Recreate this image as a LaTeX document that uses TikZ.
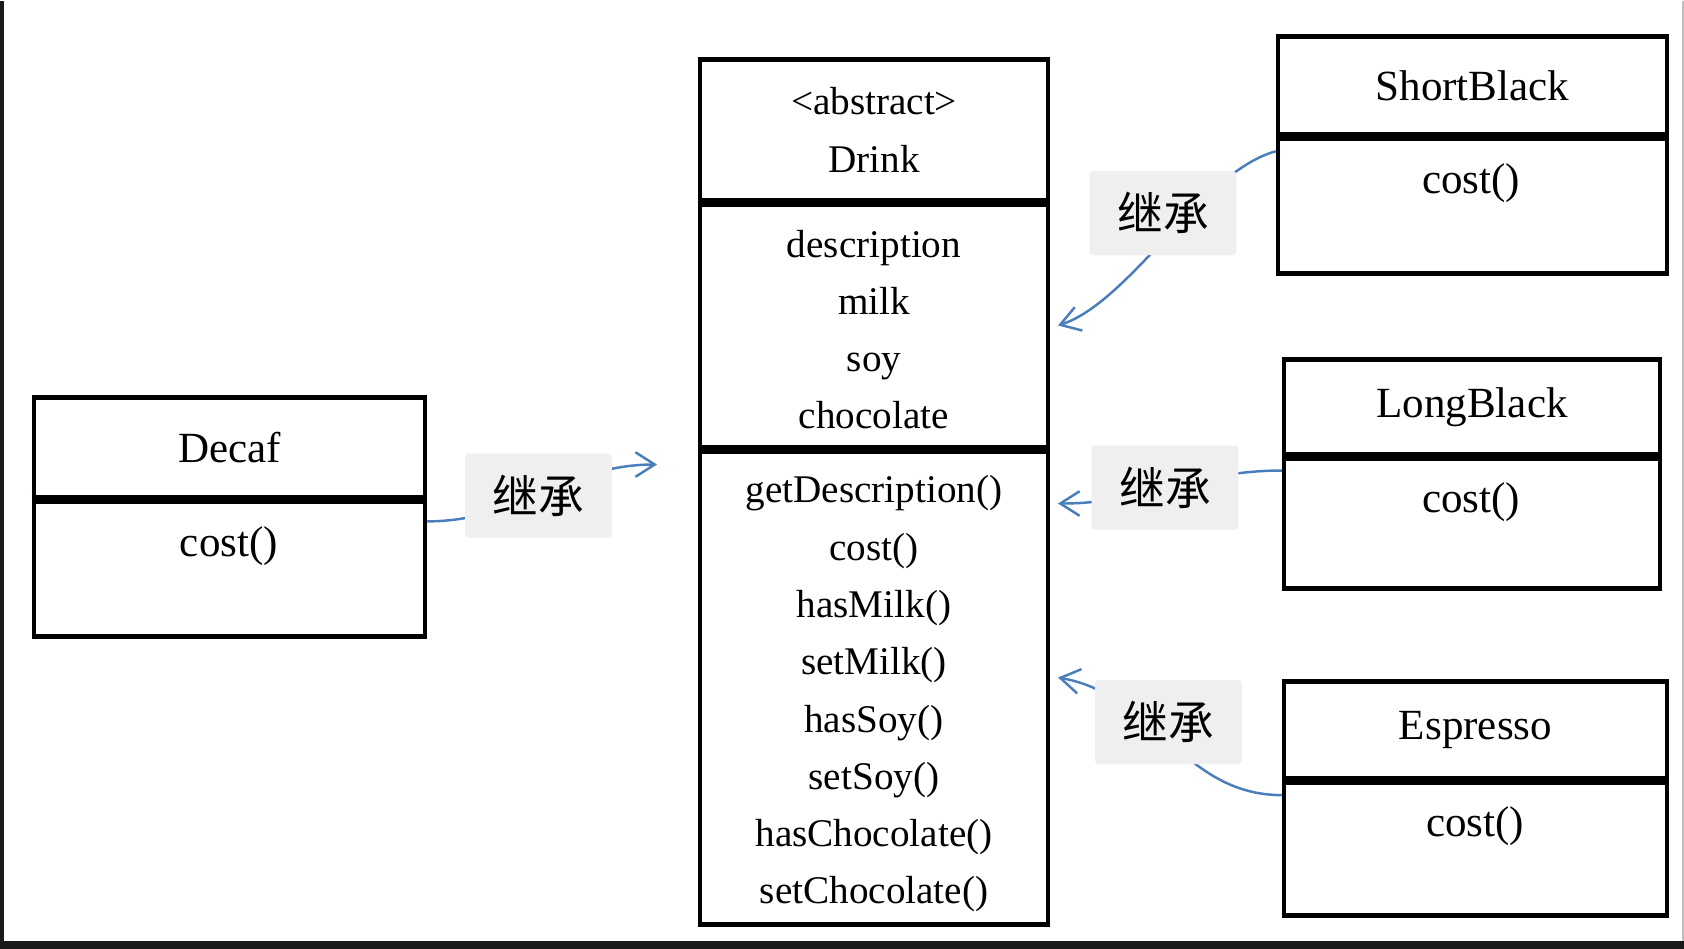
\documentclass[tikz,border=0pt]{standalone}
\usepackage{fontspec}
\setmainfont{Liberation Serif}
\newfontfamily\cjk{Noto Sans CJK SC}
\usetikzlibrary{arrows.meta}
\definecolor{lineblue}{RGB}{74,126,187}
\definecolor{labelgray}{RGB}{239,239,239}
\definecolor{framedark}{RGB}{26,26,26}

\begin{document}
\begin{tikzpicture}[x=0.02cm, y=-0.02cm, >={Straight Barb[length=11pt,width=14pt]},
  part/.style={draw, line width=2.6pt, inner sep=0pt},
  txt/.style={align=center, inner sep=0pt, font=\fontsize{22.3}{32.6}\selectfont},
  bigtxt/.style={align=center, inner sep=0pt, font=\fontsize{24.5}{30}\selectfont},
  rel/.style={fill=labelgray, rounded corners=2pt, minimum width=2.94cm, minimum height=1.68cm, font=\cjk\fontsize{26}{30}\selectfont},
  link/.style={draw=lineblue, line width=1.4pt}]
\fill[white] (0,0) rectangle (1684,948);
\fill[framedark] (0,0) rectangle (4,948);
\fill[framedark] (0,940) rectangle (1684,948);
\draw[gray!50, line width=0.6pt] (1683,0) -- (1683,940);
% Decaf
\node (decafh) at (229.5,447) [part, bigtxt, minimum width=7.82cm, minimum height=2cm] {Decaf};
\node (decafb) at (229.5,566.5) [part, minimum width=7.82cm, minimum height=2.78cm] {};
\node (decafc) at (229,546) [bigtxt] {cost()};
% Drink
\node (drinkh) at (874,129.5) [part, txt, minimum width=6.96cm, minimum height=2.82cm] {<abstract>\\Drink};
\node (drinka) at (874,323.5) [part, minimum width=6.96cm, minimum height=4.94cm] {};
\node (drinkat) at (874,329) [txt] {description\\milk\\soy\\chocolate};
\node (drinkm) at (874,685.5) [part, minimum width=6.96cm, minimum height=9.54cm] {};
\node (drinkmt) at (874,693.5) [txt] {getDescription()\\cost()\\hasMilk()\\setMilk()\\hasSoy()\\setSoy()\\hasChocolate()\\setChocolate()};
% ShortBlack
\node (shorth) at (1472.5,85) [part, bigtxt, minimum width=7.78cm, minimum height=1.96cm] {ShortBlack};
\node (shortb) at (1472.5,203.5) [part, minimum width=7.78cm, minimum height=2.78cm] {};
\node (shortc) at (1471,183) [bigtxt] {cost()};
% LongBlack
\node (longh) at (1472,406.5) [part, bigtxt, minimum width=7.52cm, minimum height=1.9cm] {LongBlack};
\node (longb) at (1472,521) [part, minimum width=7.52cm, minimum height=2.68cm] {};
\node (longc) at (1471,502) [bigtxt] {cost()};
% Espresso
\node (esph) at (1475.5,729.5) [part, bigtxt, minimum width=7.66cm, minimum height=1.94cm] {Espresso};
\node (espb) at (1475.5,846.5) [part, minimum width=7.66cm, minimum height=2.74cm] {};
\node (espc) at (1475,826) [bigtxt] {cost()};
% dividers
\foreach \c in {decafh, drinkh, drinka, shorth, longh, esph}
  \draw[line width=5pt] (\c.south west) -- (\c.south east);
% inheritance
\coordinate (tdecaf) at (657,464);
\coordinate (tshort) at (1058,325);
\coordinate (tlong) at (1058,503);
\coordinate (tesp) at (1058,677);
\draw[link, ->] (decafb.13.7) to [out=0,in=180] (tdecaf);
\draw[link, ->] (shortb.165.7) to [out=195,in=18,looseness=0.7] (tshort);
\draw[link, ->] (longb.165.7) to [out=180,in=0] (tlong);
\draw[link, ->] (espb.165.5) to [out=180,in=-10] (tesp);
\node (rdecaf) at (538.5,495) [rel] {继承};
\node (rshort) at (1163,212.5) [rel] {继承};
\node (rlong) at (1165,487) [rel] {继承};
\node (resp) at (1168.5,721.5) [rel] {继承};
\end{tikzpicture}
\end{document}
